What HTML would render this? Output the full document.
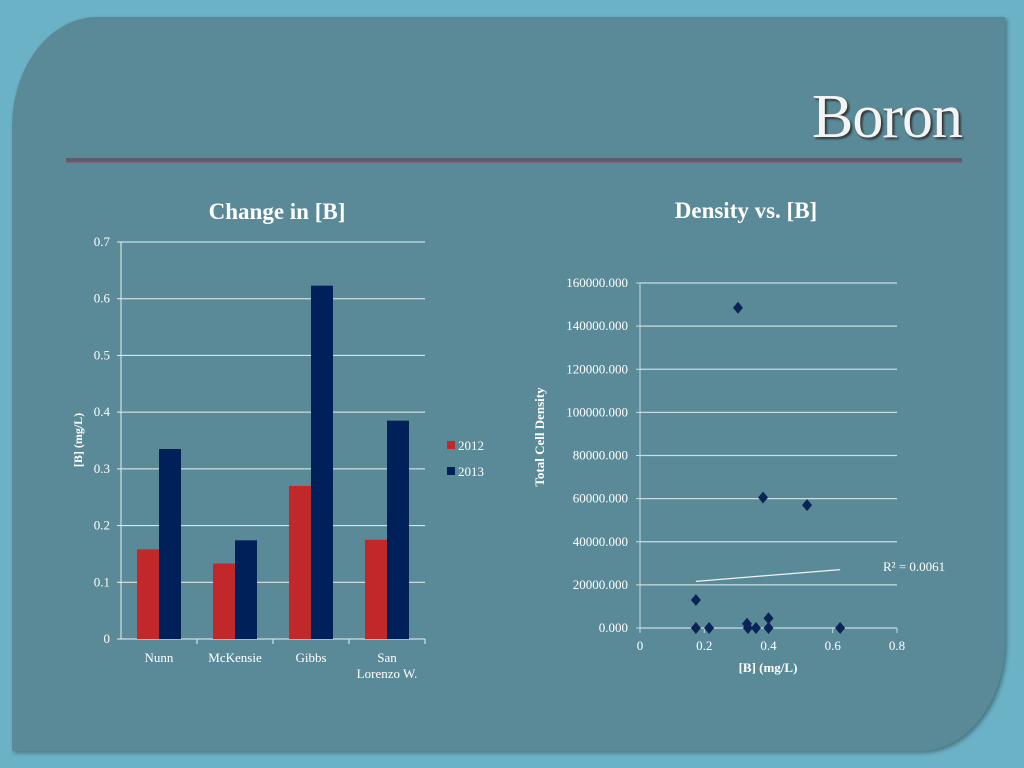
<!DOCTYPE html>
<html><head><meta charset="utf-8"><style>
html,body{margin:0;padding:0;width:1024px;height:768px;overflow:hidden;background:#6cb2c6;}
#panel{position:absolute;left:12px;top:17px;width:993px;height:734px;background:#5a8a98;border-top-left-radius:85px 110px;border-bottom-right-radius:85px 110px;box-shadow:2px 2px 4px rgba(0,0,0,0.35);}
#title{position:absolute;right:62px;top:82px;font:62px "Liberation Serif",serif;color:#f4f4f4;text-shadow:2px 2px 2px #333;letter-spacing:-1px;}
#rule{position:absolute;left:66px;top:158px;width:896px;height:4px;background:#5e5c72;border-bottom:1px solid #7e6a7a;}
svg{position:absolute;left:0;top:0;}
text{font-family:"Liberation Serif",serif;fill:#fff;}
</style></head><body>
<div id="panel"></div>
<div id="title">Boron</div>
<div id="rule"></div>
<svg id="chart" width="1024" height="768"></svg>
<script>
const categories=["Nunn","McKensie","Gibbs","San|Lorenzo W."];
const values2012=[0.158,0.133,0.270,0.175];
const values2013=[0.335,0.174,0.623,0.385];
const barTicks=[0,0.1,0.2,0.3,0.4,0.5,0.6,0.7];
const scatterX=[0.305,0.383,0.52,0.174,0.174,0.215,0.333,0.336,0.361,0.40,0.40,0.623];
const scatterY=[148500,60500,57000,13000,0,0,2000,0,0,4500,0,0];
const scatterXTicks=[0,0.2,0.4,0.6,0.8];
const scatterYTicks=[0,20000,40000,60000,80000,100000,120000,140000,160000];
const rSquaredLabel="R² = 0.0061";

const NS="http://www.w3.org/2000/svg";
const svg=document.getElementById('chart');
function mk(tag,attrs,name,parent){const e=document.createElementNS(NS,tag);for(const k in attrs)e.setAttribute(k,attrs[k]);


(parent||svg).appendChild(e);return e;}
function txt(x,y,s,size,name,anchor,weight){const t=mk('text',{x:x,y:y,'font-size':size,'text-anchor':anchor||'middle','font-weight':weight||'normal'},name);t.textContent=s;return t;}

// ---- Bar chart ----
const bx0=121,bx1=425,by0=639,by1=242;
const bY=v=>by0-(v/0.7)*(by0-by1);
const catW=(bx1-bx0)/categories.length;
txt(277,219,"Change in [B]",23,"bar-chart-title","middle","bold");
barTicks.forEach(t=>{const y=bY(t);
 if(t>0)mk('line',{x1:bx0,y1:y,x2:bx1,y2:y,stroke:'#e8f0f2','stroke-width':1},'bar-gridline');
 mk('line',{x1:bx0-4,y1:y,x2:bx0,y2:y,stroke:'#e8f0f2'},'bar-y-tick');
 txt(110,y+4,String(t),13,'bar-y-tick-label','end');});
mk('line',{x1:bx0,y1:by1,x2:bx0,y2:by0,stroke:'#e8f0f2'},'bar-y-axis');
mk('line',{x1:bx0,y1:by0,x2:bx1,y2:by0,stroke:'#e8f0f2'},'bar-x-axis');
categories.forEach((c,i)=>{const cx=bx0+catW*(i+0.5);const bw=22;
 mk('rect',{x:cx-bw,y:bY(values2012[i]),width:bw,height:by0-bY(values2012[i]),fill:'#c0282a'},'bar-2012');
 mk('rect',{x:cx,y:bY(values2013[i]),width:bw,height:by0-bY(values2013[i]),fill:'#00205a'},'bar-2013');
 const tx=bx0+catW*(i+1);mk('line',{x1:tx,y1:by0,x2:tx,y2:by0+5,stroke:'#e8f0f2'},'bar-x-tick');
 c.split('|').forEach((p,j)=>txt(cx,662+j*16,p,13,'bar-category-label'));});
const yl=txt(0,0,"[B] (mg/L)",12,"bar-y-axis-title","middle","bold");yl.setAttribute('transform','translate(82,440) rotate(-90)');
mk('rect',{x:447,y:441,width:8,height:8,fill:'#c0282a'},'legend-swatch-2012');
txt(458,450,"2012",13,"legend-label-2012","start");
mk('rect',{x:447,y:467,width:8,height:8,fill:'#00205a'},'legend-swatch-2013');
txt(458,476,"2013",13,"legend-label-2013","start");

// ---- Scatter ----
const sx0=640,sx1=897,sy0=628,sy1=283;
const sX=v=>sx0+(v/0.8)*(sx1-sx0);
const sY=v=>sy0-(v/160000)*(sy0-sy1);
txt(746,218,"Density vs. [B]",23,"scatter-chart-title","middle","bold");
scatterYTicks.forEach(t=>{const y=sY(t);
 mk('line',{x1:sx0,y1:y,x2:sx1,y2:y,stroke:'#c8dce2','stroke-width':1.3},'scatter-gridline');
 mk('line',{x1:sx0-4,y1:y,x2:sx0,y2:y,stroke:'#c8dce2'},'scatter-y-tick');
 txt(628,y+4,t.toFixed(3),13,'scatter-y-tick-label','end');});
mk('line',{x1:sx0,y1:sy1,x2:sx0,y2:sy0,stroke:'#c8dce2'},'scatter-y-axis');
scatterXTicks.forEach(t=>{const x=sX(t);
 mk('line',{x1:x,y1:sy0,x2:x,y2:sy0+5,stroke:'#c8dce2'},'scatter-x-tick');
 txt(x,650,String(t),13,'scatter-x-tick-label');});
txt(768,672,"[B] (mg/L)",13,"scatter-x-axis-title","middle","bold");
const sl=txt(0,0,"Total Cell Density",13,"scatter-y-axis-title","middle","bold");sl.setAttribute('transform','translate(544,437) rotate(-90)');
// trendline (least squares)
const n=scatterX.length;const mx=scatterX.reduce((a,b)=>a+b)/n,my=scatterY.reduce((a,b)=>a+b)/n;
let sxy=0,sxx=0;for(let i=0;i<n;i++){sxy+=(scatterX[i]-mx)*(scatterY[i]-my);sxx+=(scatterX[i]-mx)**2;}
const slope=sxy/sxx,icpt=my-slope*mx;
const xmin=Math.min(...scatterX),xmax=Math.max(...scatterX);
mk('line',{x1:sX(xmin),y1:sY(icpt+slope*xmin),x2:sX(xmax),y2:sY(icpt+slope*xmax),stroke:'#eef4f6','stroke-width':1.2},'trendline');
txt(883,571,rSquaredLabel,13,'r-squared-label','start');
scatterX.forEach((x,i)=>{const cx=sX(x),cy=sY(scatterY[i]);
 mk('polygon',{points:`${cx},${cy-6} ${cx+5},${cy} ${cx},${cy+6} ${cx-5},${cy}`,fill:'#0a2458'},'scatter-point');});
</script>
</body></html>
